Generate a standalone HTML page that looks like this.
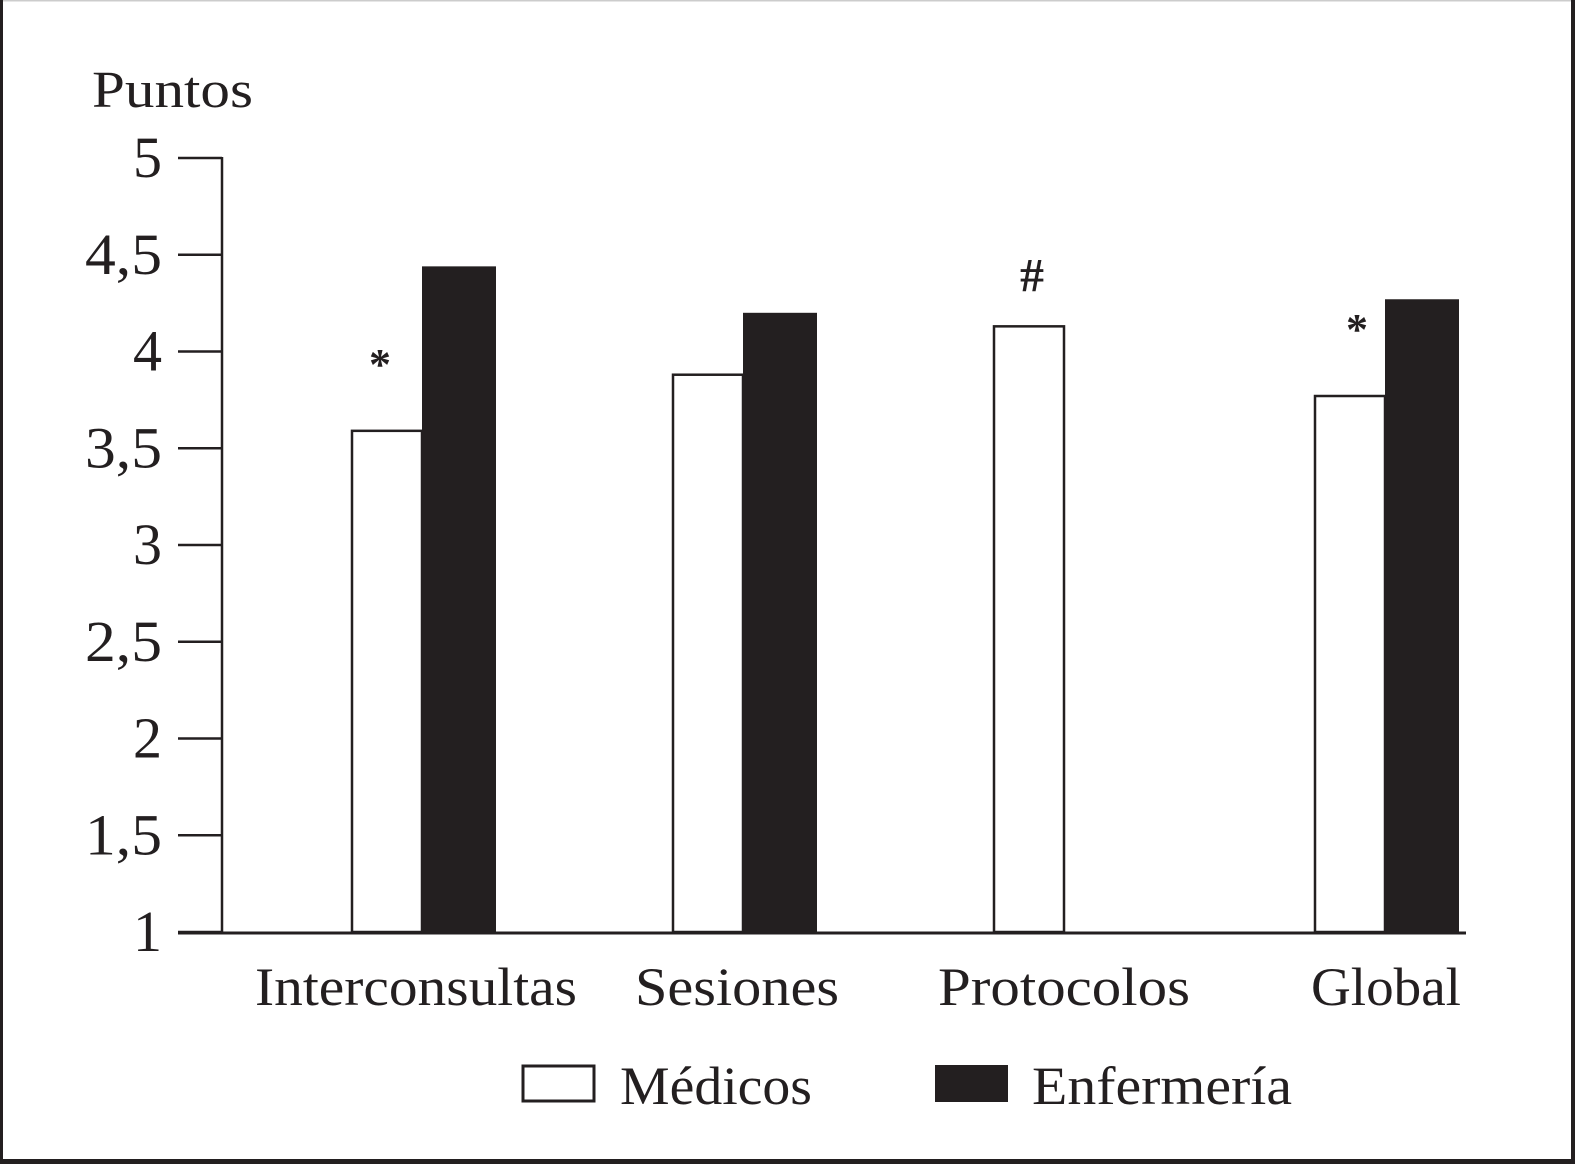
<!DOCTYPE html>
<html><head><meta charset="utf-8"><style>
html,body{margin:0;padding:0;background:#fff}
svg{display:block}
text{font-family:"Liberation Serif",serif;fill:#231f20}
</style></head><body>
<svg width="1575" height="1164" viewBox="0 0 1575 1164">
<rect x="0" y="0" width="1575" height="1164" fill="#fff"/>
<rect x="0" y="0" width="1575" height="1.5" fill="#ccc"/>
<rect x="0" y="0" width="3" height="1164" fill="#231f20"/>
<rect x="1571" y="0" width="4" height="1164" fill="#231f20"/>
<rect x="0" y="1159" width="1575" height="5" fill="#231f20"/>
<text x="92" y="107" font-size="52" textLength="161" lengthAdjust="spacingAndGlyphs">Puntos</text>
<g id="axes"></g>
<g id="bars"></g>
<g>
<rect x="523" y="1066" width="71" height="35" fill="#fff" stroke="#231f20" stroke-width="3"/>
<text x="620" y="1104" font-size="54" textLength="192" lengthAdjust="spacingAndGlyphs">Médicos</text>
<rect x="935" y="1065" width="73" height="37" fill="#231f20"/>
<text x="1032" y="1104" font-size="54" textLength="260" lengthAdjust="spacingAndGlyphs">Enfermería</text>
</g>
</svg>
<script>
const categories=["Interconsultas","Sesiones","Protocolos","Global"];
const medicos=[3.59,3.88,4.13,3.77];
const enfermeria=[4.44,4.20,null,4.27];
const marks=["*","","#","*"];
const markOffsets=[28,0,38,42];
const labelWidths=[322,204,252,150];
const yTicks=[1,1.5,2,2.5,3,3.5,4,4.5,5];
const yTickLabels=["1","1,5","2","2,5","3","3,5","4","4,5","5"];
const NS="http://www.w3.org/2000/svg";
const y=v=>932-(v-1)*193.5;
const gx=i=>352+i*321;
function mk(t,a,p){const e=document.createElementNS(NS,t);for(const k in a)e.setAttribute(k,a[k]);p.appendChild(e);return e;}
const axes=document.getElementById('axes'),bars=document.getElementById('bars');
yTicks.forEach((v,i)=>{
 const l=mk('line',{x1:178,x2:222,y1:y(v),y2:y(v),stroke:'#231f20','stroke-width':2.5},axes);
 
 
 const lab=yTickLabels[i];
 const a={x:162,y:y(v)+19,'font-size':58,'text-anchor':'end'};
 if(lab.length>1){a.textLength=77;a.lengthAdjust='spacingAndGlyphs';}
 const t=mk('text',a,axes);
 t.textContent=lab;
 
 
});
categories.forEach((c,i)=>{
 const x0=gx(i);
 const w=mk('rect',{x:x0,y:y(medicos[i]),width:70,height:y(1)-y(medicos[i]),fill:'#fff',stroke:'#231f20','stroke-width':2.5},bars);
 
 
 if(enfermeria[i]!=null){
  const b=mk('rect',{x:x0+70,y:y(enfermeria[i]),width:74,height:y(1)-y(enfermeria[i]),fill:'#231f20'},bars);
  
  
 }
 if(marks[i]){
  const m=mk('text',{x:x0+markOffsets[i],y:y(medicos[i])-(marks[i]=="#"?35:52),'font-size':marks[i]=="#"?48:44,'text-anchor':'middle','font-weight':'bold'},bars);
  m.textContent=marks[i];
  
  
 }
 const cx=[416,737,1064,1386][i];
 const t=mk('text',{x:cx-labelWidths[i]/2,y:1005,'font-size':54,textLength:labelWidths[i],lengthAdjust:'spacingAndGlyphs'},bars);
 t.textContent=c;
 
 
});
const ya=mk('line',{x1:222,x2:222,y1:157,y2:933,stroke:'#231f20','stroke-width':2.5},axes);


const xa=mk('line',{x1:178,x2:1466,y1:933,y2:933,stroke:'#231f20','stroke-width':3},axes);


</script>
</body></html>
